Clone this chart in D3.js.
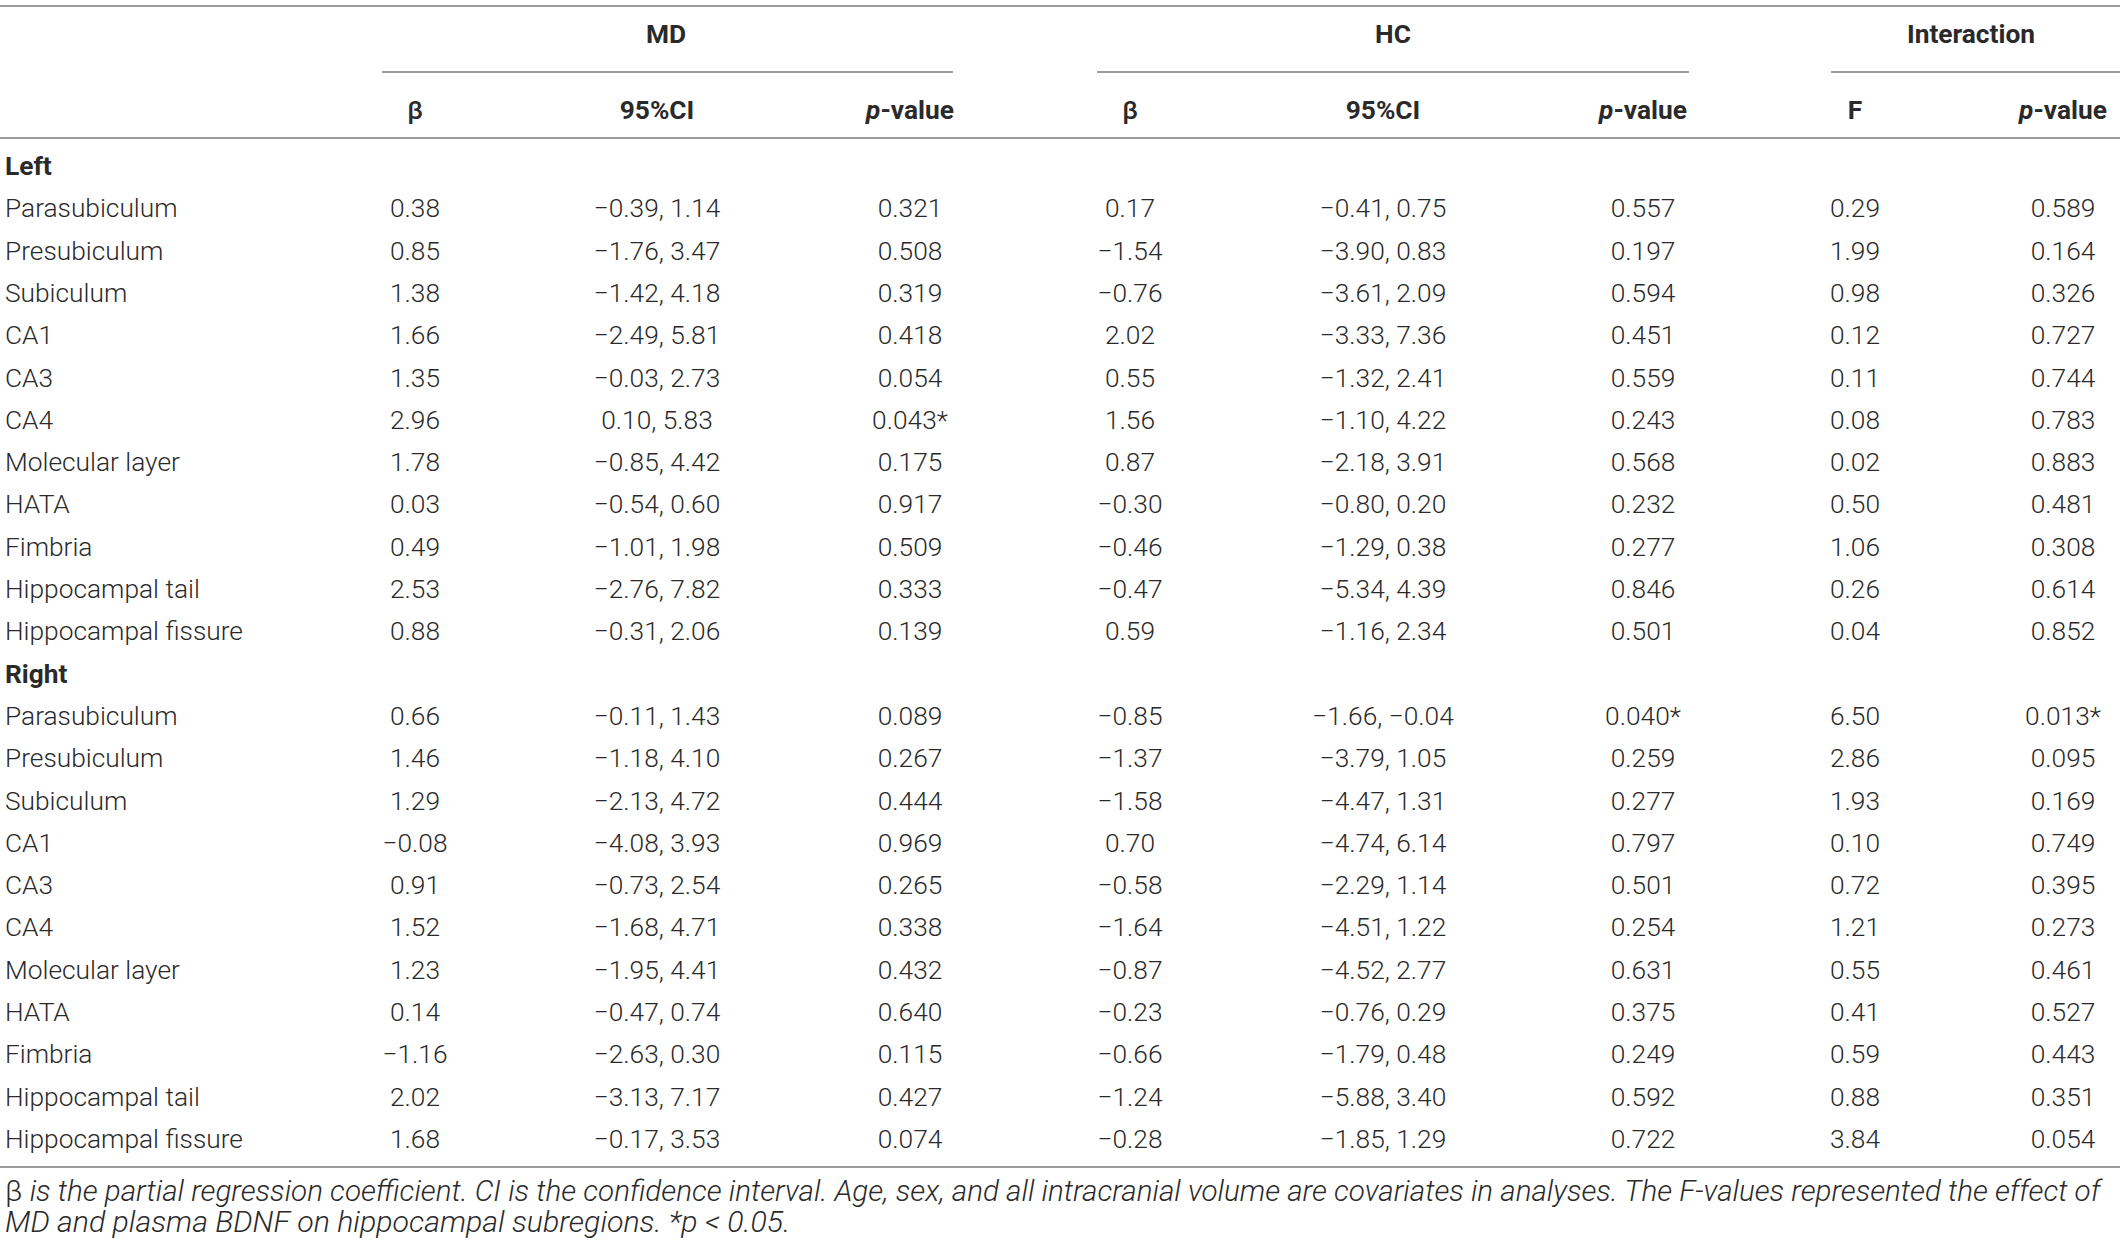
<!DOCTYPE html>
<html>
<head>
<meta charset="utf-8">
<script src="https://cdn.jsdelivr.net/npm/d3@7"></script>
<style>
body { margin: 0; background: #fff; }
svg text { font-family: Roboto, "Liberation Sans", sans-serif; fill: #2a2a2a; font-weight: 300; }
</style>
</head>
<body>
<div id="chart"></div>
<script>
// table values
const sides = ["Left", "Right"];
const regions = ["Parasubiculum", "Presubiculum", "Subiculum", "CA1", "CA3", "CA4",
    "Molecular layer", "HATA", "Fimbria", "Hippocampal tail", "Hippocampal fissure"];
const groups = ["MD", "HC", "Interaction"];
const subHeads = ["β", "95%CI", "p-value", "β", "95%CI", "p-value", "F", "p-value"];

// left 11 then right 11
const mdBeta = [0.38, 0.85, 1.38, 1.66, 1.35, 2.96, 1.78, 0.03, 0.49, 2.53, 0.88,
    0.66, 1.46, 1.29, -0.08, 0.91, 1.52, 1.23, 0.14, -1.16, 2.02, 1.68];
const mdLo = [-0.39, -1.76, -1.42, -2.49, -0.03, 0.10, -0.85, -0.54, -1.01, -2.76, -0.31,
    -0.11, -1.18, -2.13, -4.08, -0.73, -1.68, -1.95, -0.47, -2.63, -3.13, -0.17];
const mdHi = [1.14, 3.47, 4.18, 5.81, 2.73, 5.83, 4.42, 0.60, 1.98, 7.82, 2.06,
    1.43, 4.10, 4.72, 3.93, 2.54, 4.71, 4.41, 0.74, 0.30, 7.17, 3.53];
const mdP = [0.321, 0.508, 0.319, 0.418, 0.054, 0.043, 0.175, 0.917, 0.509, 0.333, 0.139,
    0.089, 0.267, 0.444, 0.969, 0.265, 0.338, 0.432, 0.640, 0.115, 0.427, 0.074];

const hcBeta = [0.17, -1.54, -0.76, 2.02, 0.55, 1.56, 0.87, -0.30, -0.46, -0.47, 0.59,
    -0.85, -1.37, -1.58, 0.70, -0.58, -1.64, -0.87, -0.23, -0.66, -1.24, -0.28];
const hcLo = [-0.41, -3.90, -3.61, -3.33, -1.32, -1.10, -2.18, -0.80, -1.29, -5.34, -1.16,
    -1.66, -3.79, -4.47, -4.74, -2.29, -4.51, -4.52, -0.76, -1.79, -5.88, -1.85];
const hcHi = [0.75, 0.83, 2.09, 7.36, 2.41, 4.22, 3.91, 0.20, 0.38, 4.39, 2.34,
    -0.04, 1.05, 1.31, 6.14, 1.14, 1.22, 2.77, 0.29, 0.48, 3.40, 1.29];
const hcP = [0.557, 0.197, 0.594, 0.451, 0.559, 0.243, 0.568, 0.232, 0.277, 0.846, 0.501,
    0.040, 0.259, 0.277, 0.797, 0.501, 0.254, 0.631, 0.375, 0.249, 0.592, 0.722];

const intF = [0.29, 1.99, 0.98, 0.12, 0.11, 0.08, 0.02, 0.50, 1.06, 0.26, 0.04,
    6.50, 2.86, 1.93, 0.10, 0.72, 1.21, 0.55, 0.41, 0.59, 0.88, 3.84];
const intP = [0.589, 0.164, 0.326, 0.727, 0.744, 0.783, 0.883, 0.481, 0.308, 0.614, 0.852,
    0.013, 0.095, 0.169, 0.749, 0.395, 0.273, 0.461, 0.527, 0.443, 0.351, 0.054];

const width = 2120, height = 1249;
const fontSize = 26.3;
const noteSize = 30.3;
const ruleColor = "#9a9a9a";

const svg = d3.select("#chart")
    .append("svg")
    .attr("width", width)
    .attr("height", height)
    .style("font-size", fontSize + "px");

const f2 = d3.format(".2f");
const f3 = d3.format(".3f");
const pText = p => f3(p) + (p < 0.05 ? "*" : "");
const ciText = (lo, hi) => f2(lo) + ", " + f2(hi);

const columns = ["mdBeta", "mdCI", "mdP", "hcBeta", "hcCI", "hcP", "intF", "intP"];
const x = d3.scaleOrdinal()
    .domain(columns)
    .range([415, 657, 910, 1130, 1383, 1643, 1855, 2063]);

// group header spans (left, right) for the underline
const gx = d3.scaleOrdinal().domain(groups).range([[382, 953], [1097, 1689], [1831, width]]);
const gCenter = d3.scaleOrdinal().domain(groups).range([666, 1393, 1971]);

// build rows: side title then regions
const rows = [];
sides.forEach((side, s) => {
    rows.push({ label: side, head: true });
    regions.forEach((r, i) => rows.push({ label: r, k: s * regions.length + i }));
});

const y = d3.scaleLinear().domain([0, rows.length - 1]).range([175, 1148]);

// rules
const rules = [6, 138, 1167];
svg.append("g")
    .selectAll("line")
    .data(rules)
    .enter().append("line")
    .attr("x1", 0).attr("x2", width)
    .attr("y1", d => d).attr("y2", d => d)
    .attr("stroke", ruleColor)
    .attr("stroke-width", 2);

svg.append("g")
    .selectAll("line")
    .data(groups)
    .enter().append("line")
    .attr("x1", d => gx(d)[0]).attr("x2", d => gx(d)[1])
    .attr("y1", 72).attr("y2", 72)
    .attr("stroke", ruleColor)
    .attr("stroke-width", 2);

// header text
svg.append("g")
    .selectAll("text")
    .data(groups)
    .enter().append("text")
    .attr("x", d => gCenter(d))
    .attr("y", 43)
    .attr("text-anchor", "middle")
    .style("font-weight", 700)
    .text(d => d);

const sub = svg.append("g")
    .selectAll("text")
    .data(subHeads)
    .enter().append("text")
    .attr("x", (d, i) => x(columns[i]))
    .attr("y", 119)
    .attr("text-anchor", "middle")
    .style("font-weight", d => d === "β" ? 500 : 700);

sub.each(function(d) {
    const t = d3.select(this);
    if (d === "p-value") {
        t.append("tspan").style("font-style", "italic").style("font-weight", 700).text("p");
        t.append("tspan").style("font-weight", 700).text("-value");
    } else {
        t.text(d);
    }
});

// body rows
const body = svg.append("g");

body.selectAll("text.label")
    .data(rows)
    .enter().append("text")
    .attr("class", "label")
    .attr("x", 5)
    .attr("y", (d, i) => y(i))
    .style("font-weight", d => d.head ? 700 : 300)
    .text(d => d.label);

const cells = [];
rows.forEach((r, i) => {
    if (r.head) return;
    const k = r.k;
    cells.push({ col: "mdBeta", i, v: f2(mdBeta[k]) });
    cells.push({ col: "mdCI", i, v: ciText(mdLo[k], mdHi[k]) });
    cells.push({ col: "mdP", i, v: pText(mdP[k]) });
    cells.push({ col: "hcBeta", i, v: f2(hcBeta[k]) });
    cells.push({ col: "hcCI", i, v: ciText(hcLo[k], hcHi[k]) });
    cells.push({ col: "hcP", i, v: pText(hcP[k]) });
    cells.push({ col: "intF", i, v: f2(intF[k]) });
    cells.push({ col: "intP", i, v: pText(intP[k]) });
});

body.selectAll("text.cell")
    .data(cells)
    .enter().append("text")
    .attr("class", "cell")
    .attr("x", d => x(d.col))
    .attr("y", d => y(d.i))
    .attr("text-anchor", "middle")
    .text(d => d.v);

// footnote
const note = svg.append("g").style("font-size", noteSize + "px");
const line1 = note.append("text")
    .attr("x", 5)
    .attr("y", 1201);
line1.append("tspan").text("β");
line1.append("tspan").style("font-style", "italic")
    .text(" is the partial regression coefficient. CI is the confidence interval. Age, sex, and all intracranial volume are covariates in analyses. The F-values represented the effect of");

// shrink the long line so it ends before the right edge
const natural = line1.node().getComputedTextLength();
const maxLen = 2096;
if (natural > maxLen) {
    line1.style("font-size", (noteSize * maxLen / natural) + "px");
}

note.append("text")
    .attr("x", 5)
    .attr("y", 1232)
    .style("font-style", "italic")
    .text("MD and plasma BDNF on hippocampal subregions. *p < 0.05.");
</script>
</body>
</html>
